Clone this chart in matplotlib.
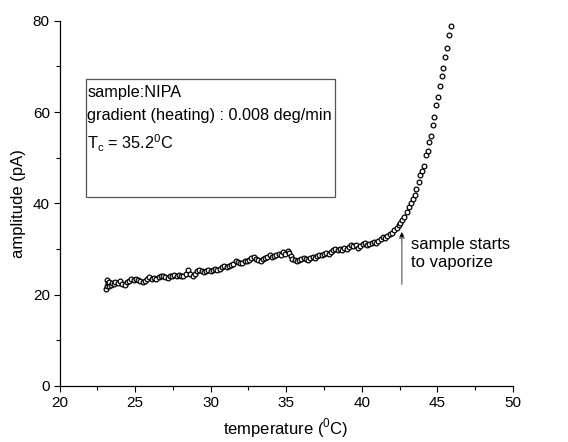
import matplotlib
matplotlib.use("Agg")
import matplotlib.pyplot as plt
from matplotlib.patches import Rectangle
from matplotlib.ticker import MultipleLocator

plt.rcParams['font.family'] = ['Liberation Sans', 'DejaVu Sans']
plt.rcParams['mathtext.fontset'] = 'custom'
plt.rcParams['mathtext.rm'] = 'Liberation Sans'

# temperature (deg C) and amplitude (pA)
temperature = [
    23.10, 23.12, 23.15, 23.20, 23.25, 23.30, 23.40, 23.50, 23.60, 23.70,
    23.85, 24.00, 24.15, 24.30, 24.45, 24.60, 24.75, 24.90, 25.05, 25.20,
    25.35, 25.50, 25.65, 25.80, 25.95, 26.10, 26.25, 26.40, 26.55, 26.70,
    26.85, 27.00, 27.15, 27.30, 27.45, 27.60, 27.75, 27.90, 28.05, 28.20,
    28.35, 28.50, 28.65, 28.80, 28.95, 29.10, 29.25, 29.40, 29.55, 29.70,
    29.85, 30.00, 30.15, 30.30, 30.45, 30.60, 30.75, 30.90, 31.05, 31.20,
    31.35, 31.50, 31.65, 31.80, 31.95, 32.10, 32.25, 32.40, 32.55, 32.70,
    32.85, 33.00, 33.15, 33.30, 33.45, 33.60, 33.75, 33.90, 34.05, 34.20,
    34.35, 34.50, 34.65, 34.80, 34.95, 35.10, 35.20, 35.30, 35.40, 35.55,
    35.70, 35.85, 36.00, 36.15, 36.30, 36.45, 36.60, 36.75, 36.90, 37.05,
    37.20, 37.35, 37.50, 37.65, 37.80, 37.95, 38.10, 38.25, 38.40, 38.55,
    38.70, 38.85, 39.00, 39.15, 39.30, 39.45, 39.60, 39.75, 39.90, 40.05,
    40.20, 40.35, 40.50, 40.65, 40.80, 40.95, 41.10, 41.25, 41.40, 41.55,
    41.70, 41.85, 42.00, 42.15, 42.30, 42.45, 42.55, 42.65, 42.82, 43.00,
    43.13, 43.27, 43.40, 43.51, 43.62, 43.77, 43.88, 44.00, 44.11, 44.28,
    44.35, 44.48, 44.59, 44.70, 44.81, 44.92, 45.05, 45.16, 45.29, 45.38,
    45.51, 45.63, 45.76, 45.89,
]
amplitude = [
    21.2, 23.2, 22.0, 22.6, 21.8, 22.8, 22.2, 22.5, 22.3, 22.7,
    22.6, 22.9, 22.4, 22.2, 22.8, 23.1, 23.4, 23.2, 23.5, 23.3,
    23.0, 22.7, 23.0, 23.5, 23.9, 23.4, 23.6, 23.5, 23.8, 24.0,
    24.0, 23.9, 23.7, 24.2, 24.1, 24.3, 24.2, 24.4, 24.1, 24.0,
    24.6, 25.4, 24.5, 24.2, 24.6, 25.1, 25.4, 25.2, 24.9, 25.1,
    25.3, 25.2, 25.5, 25.6, 25.5, 25.7, 26.1, 26.3, 26.1, 26.2,
    26.4, 26.8, 27.4, 27.2, 27.0, 26.9, 27.3, 27.4, 27.6, 28.1,
    28.2, 27.8, 27.6, 27.4, 27.9, 28.1, 28.3, 28.6, 28.3, 28.5,
    28.8, 29.0, 28.7, 29.3, 29.0, 29.6, 29.2, 28.4, 27.8, 27.5,
    27.4, 27.5, 27.8, 28.1, 27.9, 27.6, 28.0, 28.2, 28.1, 28.4,
    28.8, 28.6, 28.9, 29.1, 29.0, 29.4, 29.7, 29.9, 29.8, 30.0,
    29.8, 30.2, 30.1, 30.5, 30.8, 30.6, 30.9, 30.2, 30.6, 31.0,
    31.3, 30.9, 31.2, 31.4, 31.6, 31.3, 31.8, 32.3, 32.6, 32.4,
    32.9, 33.2, 33.6, 34.1, 34.6, 35.2, 35.7, 36.4, 37.1, 38.1,
    39.1, 40.0, 40.9, 41.8, 43.1, 44.7, 46.3, 47.2, 48.2, 50.6,
    51.5, 53.5, 54.8, 57.1, 59.0, 61.5, 63.4, 65.8, 68.0, 69.6,
    72.1, 74.1, 76.8, 78.8,
]

info_lines = ['sample:NIPA',
              'gradient (heating) : 0.008 deg/min',
              r'T$_{\mathregular{c}}$ = 35.2$^\mathregular{0}$C']
arrow_note = 'sample starts\nto vaporize'

fig = plt.figure(figsize=(5.68, 4.42), dpi=100)
ax = fig.add_axes([0.1048, 0.1267, 0.7982, 0.8263])

ax.plot(temperature, amplitude, linestyle='none', marker='o', markersize=3.4,
        markerfacecolor='white', markeredgecolor='black', markeredgewidth=0.9)

ax.set_xlim(20, 50)
ax.set_ylim(0, 80)
ax.xaxis.set_major_locator(MultipleLocator(5))
ax.xaxis.set_minor_locator(MultipleLocator(2.5))
ax.yaxis.set_major_locator(MultipleLocator(20))
ax.yaxis.set_minor_locator(MultipleLocator(10))
ax.tick_params(which='major', direction='out', length=4, width=0.8, labelsize=11, pad=3)
ax.tick_params(which='minor', direction='out', length=3, width=0.8)
for s in ['top', 'right']:
    ax.spines[s].set_visible(False)
for s in ['left', 'bottom']:
    ax.spines[s].set_linewidth(0.9)

ax.set_xlabel(r'temperature ($^\mathregular{0}$C)', fontsize=12, labelpad=5)
ax.set_ylabel('amplitude (pA)', fontsize=12, labelpad=5)

# info box
ax.add_patch(Rectangle((21.75, 41.4), 16.49, 25.8, fill=False,
                       edgecolor='#555555', linewidth=0.9, clip_on=False))
ax.text(21.85, 66.0, info_lines[0], fontsize=11.7, va='top', ha='left')
ax.text(21.85, 61.0, info_lines[1], fontsize=11.7, va='top', ha='left')
ax.text(21.85, 55.6, info_lines[2], fontsize=11.7, va='top', ha='left')

# arrow
ax.annotate('', xy=(42.65, 33.7), xytext=(42.65, 22.3),
            arrowprops=dict(arrowstyle='-|>', color='#777777', lw=1.0,
                            mutation_scale=8, shrinkA=0, shrinkB=0))
ax.annotate('', xy=(42.65, 33.7), xytext=(42.65, 31.5),
            arrowprops=dict(arrowstyle='-|>', color='black', lw=0.1,
                            mutation_scale=8, shrinkA=0, shrinkB=0))
ax.text(43.25, 29.1, arrow_note, fontsize=12, va='center', ha='left',
        linespacing=1.25)

fig.savefig('out.png', dpi=100)
